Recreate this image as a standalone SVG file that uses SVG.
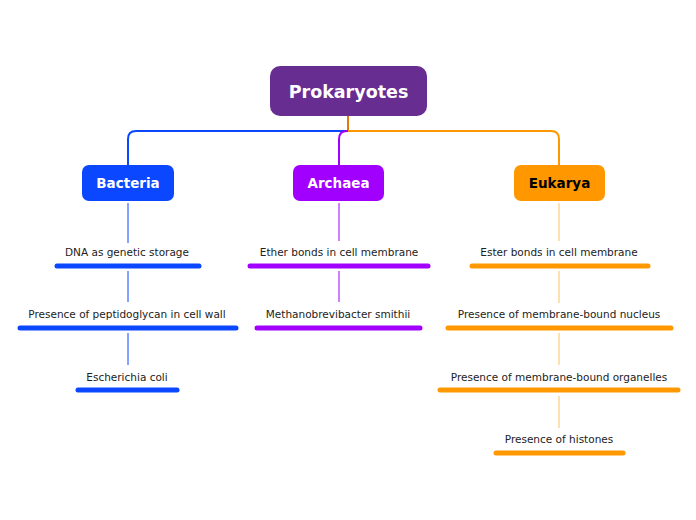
<svg xmlns="http://www.w3.org/2000/svg" width="696" height="520" viewBox="0 0 696 520">
<style>
text{font-family:"DejaVu Sans",Verdana,sans-serif;text-anchor:middle}
.leaf{font-size:10.5px;fill:#222}
.mid{font-size:13.5px;font-weight:bold}
.bar{stroke-width:5;stroke-linecap:round}
.c{fill:none}
</style>
<rect width="696" height="520" fill="#fff"/>
<g id="connectors" class="c">
<path d="M348 116V131" stroke="#e07b14" stroke-width="2"/>
<path d="M348 131H136Q128 131 128 139V165" stroke="#0a47ff" stroke-width="2"/>
<path d="M348 131H347Q339 131 339 139V165" stroke="#a100ff" stroke-width="2"/>
<path d="M348 131H551Q559 131 559 139V165" stroke="#ff9800" stroke-width="2"/>
<g stroke="#0a47ff" stroke-width="1"><path d="M128 203V243M128 271V302M128 333V365"/></g>
<g stroke="#a100ff" stroke-width="1"><path d="M339 203V241M339 271V302"/></g>
<g stroke="#ff9800" stroke-width="1" opacity="0.6"><path d="M559 203V241M559 271V303M559 333V365M559 396V428"/></g>
</g>
<g id="root"><rect x="270" y="66" width="157" height="50" rx="10" fill="#682d91"/><text x="348.5" y="98" font-size="17.5" font-weight="bold" fill="#fff">Prokaryotes</text></g>
<g id="bacteria"><rect x="82" y="165" width="92" height="36" rx="7" fill="#0a47ff"/><text class="mid" x="128" y="188" fill="#fff">Bacteria</text></g>
<g id="archaea"><rect x="293" y="165" width="91" height="36" rx="7" fill="#a100ff"/><text class="mid" x="338.5" y="188" fill="#fff">Archaea</text></g>
<g id="eukarya"><rect x="514" y="165" width="91" height="36" rx="7" fill="#ff9800"/><text class="mid" x="559.5" y="188" fill="#000">Eukarya</text></g>
<g id="b1"><text class="leaf" x="127" y="256">DNA as genetic storage</text><line class="bar" x1="57" y1="266" x2="199" y2="266" stroke="#0a47ff"/></g>
<g id="b2"><text class="leaf" x="127" y="318">Presence of peptidoglycan in cell wall</text><line class="bar" x1="20" y1="328" x2="236" y2="328" stroke="#0a47ff"/></g>
<g id="b3"><text class="leaf" x="127" y="381">Escherichia coli</text><line class="bar" x1="78" y1="390" x2="177" y2="390" stroke="#0a47ff"/></g>
<g id="a1"><text class="leaf" x="339" y="256">Ether bonds in cell membrane</text><line class="bar" x1="250" y1="266" x2="428" y2="266" stroke="#a100ff"/></g>
<g id="a2"><text class="leaf" x="338" y="318">Methanobrevibacter smithii</text><line class="bar" x1="257" y1="328" x2="420" y2="328" stroke="#a100ff"/></g>
<g id="e1"><text class="leaf" x="559" y="256">Ester bonds in cell membrane</text><line class="bar" x1="472" y1="266" x2="648" y2="266" stroke="#ff9800"/></g>
<g id="e2"><text class="leaf" x="559" y="318">Presence of membrane-bound nucleus</text><line class="bar" x1="448" y1="328" x2="671" y2="328" stroke="#ff9800"/></g>
<g id="e3"><text class="leaf" x="559" y="381">Presence of membrane-bound organelles</text><line class="bar" x1="440" y1="390" x2="678" y2="390" stroke="#ff9800"/></g>
<g id="e4"><text class="leaf" x="559" y="443">Presence of histones</text><line class="bar" x1="496" y1="453" x2="623" y2="453" stroke="#ff9800"/></g>
</svg>
